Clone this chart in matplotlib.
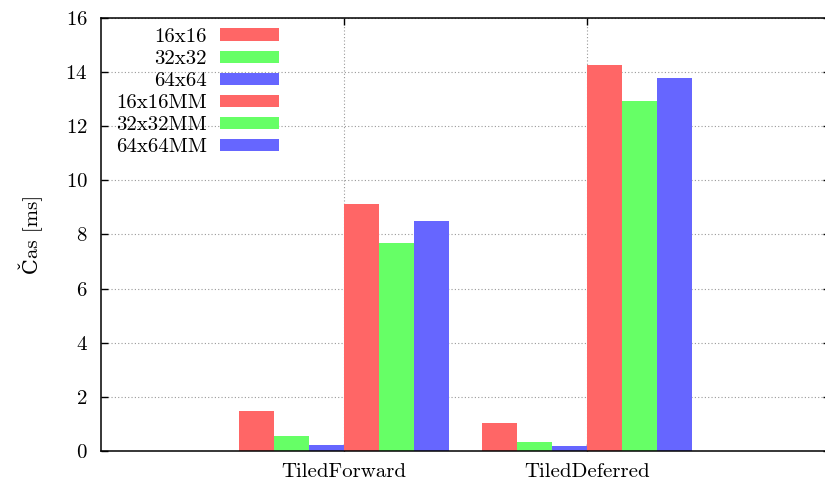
import numpy as np
import matplotlib
matplotlib.use('Agg')
import matplotlib.pyplot as plt

plt.rcParams['font.family'] = ['cmr10', 'DejaVu Serif']
plt.rcParams['mathtext.fontset'] = 'cm'
plt.rcParams['axes.formatter.use_mathtext'] = True

# data
groups = ['TiledForward', 'TiledDeferred']
series = ['16x16', '32x32', '64x64', '16x16MM', '32x32MM', '64x64MM']
vals_forward = [1.48, 0.54, 0.21, 9.13, 7.69, 8.50]
vals_deferred = [1.05, 0.33, 0.17, 14.26, 12.92, 13.77]
colors = ['#ff6666', '#66ff66', '#6666ff', '#ff6666', '#66ff66', '#6666ff']

fig = plt.figure(figsize=(8.25, 4.86), dpi=100)
ax = fig.add_axes([0.1224, 0.072, 0.884, 0.891])

x = np.array([1, 2])
w = 0.144
for i, name in enumerate(series):
    h = [vals_forward[i], vals_deferred[i]]
    ax.bar(x + (i - 2.5) * w, h, w, color=colors[i], label=name, zorder=2)

ax.set_xlim(0, 3)
ax.set_ylim(0, 16)
ax.set_xticks(x)
ax.set_xticklabels(groups)
ax.set_yticks(np.arange(0, 17, 2))
ax.tick_params(direction='in', length=5, labelsize=15, right=True, top=True, width=1)
ax.tick_params(axis='y', pad=9.5)
ax.tick_params(axis='x', pad=9)
ax.grid(True, linestyle=(0, (1, 2)), color='#999999', linewidth=0.8, zorder=0)
for s in ax.spines.values():
    s.set_linewidth(1.1)
    s.set_zorder(3)

ax.set_ylabel('Čas [ms]', fontsize=15, labelpad=16)

leg = ax.legend(loc='upper right', markerfirst=False, frameon=False, fontsize=15,
                handlelength=2.84, handleheight=0.53, labelspacing=0.2,
                borderaxespad=0.0, bbox_to_anchor=(0.2555, 0.996), handletextpad=0.63)

plt.savefig('out.png', dpi=100)
